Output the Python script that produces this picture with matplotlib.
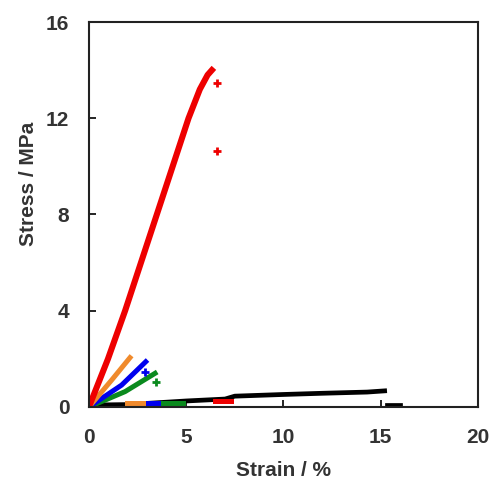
import matplotlib.pyplot as plt

plt.rcParams['font.family'] = ['Liberation Sans', 'DejaVu Sans']

# curves (strain %, stress MPa)
red_x = [0, 0.98, 1.86, 3.49, 5.12, 5.7, 6.1, 6.32]
red_y = [0, 2.0, 4.0, 8.0, 12.0, 13.2, 13.8, 14.0]
red_tail_x = [6.58, 6.58]
red_tail_y = [13.45, 10.65]
red_low_x = [6.5, 7.3]
red_low_y = [0.25, 0.25]

orange_x = [0, 1.17, 2.11]
orange_y = [0, 1.12, 2.05]
orange_low_x = [1.96, 2.78]
orange_low_y = [0.15, 0.15]

blue_x = [0, 1.68, 2.92]
blue_y = [0, 0.91, 1.88]
blue_tail_x = [2.89]
blue_tail_y = [1.47]
blue_low_x = [2.78, 3.56]
blue_low_y = [0.15, 0.15]

green_x = [0, 1.86, 3.40]
green_y = [0, 0.64, 1.40]
green_tail_x = [3.43]
green_tail_y = [1.05]
green_low_x = [3.56, 4.85]
green_low_y = [0.15, 0.15]

black_x = [0, 2.0, 4.0, 5.0, 7.0, 7.5, 10.0, 12.0, 14.3, 15.2]
black_y = [0.08, 0.1, 0.2, 0.25, 0.33, 0.45, 0.52, 0.57, 0.62, 0.67]
black_low_x = [15.3, 16.0]
black_low_y = [0.1, 0.1]

fig = plt.figure(figsize=(4.94, 4.87), dpi=100)
ax = fig.add_axes([0.180, 0.1643, 0.7876, 0.7905])

lw = 3.6
ax.plot(black_x, black_y, color='black', lw=3.4)
ax.plot(black_low_x, black_low_y, color='black', lw=3.4)
ax.plot(green_x, green_y, color='#0a8a1e', lw=lw)
ax.plot(green_low_x, green_low_y, color='#0a8a1e', lw=lw)
ax.plot(green_tail_x, green_tail_y, '+', color='#0a8a1e', ms=6, mew=2)
ax.plot(blue_x, blue_y, color='#0000ee', lw=lw)
ax.plot(blue_low_x, blue_low_y, color='#0000ee', lw=lw)
ax.plot(blue_tail_x, blue_tail_y, '+', color='#0000ee', ms=6, mew=2)
ax.plot(orange_x, orange_y, color='#f08a2c', lw=lw)
ax.plot(orange_low_x, orange_low_y, color='#f08a2c', lw=lw)
ax.plot(red_x, red_y, color='#ee0000', lw=4.4)
ax.plot(red_tail_x, red_tail_y, '+', color='#ee0000', ms=6, mew=2)
ax.plot(red_low_x, red_low_y, color='#ee0000', lw=lw)

ax.set_xlim(0, 20)
ax.set_ylim(0, 16)
ax.set_xticks([0, 5, 10, 15, 20])
ax.set_yticks([0, 4, 8, 12, 16])
ax.tick_params(direction='in', length=5, width=1.2, labelsize=15,
               labelcolor='#333333')
ax.tick_params(axis='x', pad=15)
ax.tick_params(axis='y', pad=14)
for s in ax.spines.values():
    s.set_linewidth(1.5)
    s.set_color('#222222')
for t in ax.get_xticklabels() + ax.get_yticklabels():
    t.set_fontweight('bold')

ax.set_xlabel('Strain / %', fontsize=15, fontweight='bold', color='#333333')
ax.set_ylabel('Stress / MPa', fontsize=15, fontweight='bold', color='#333333')
ax.xaxis.set_label_coords(0.5, -0.14)
ax.yaxis.set_label_coords(-0.13, 0.58)

fig.savefig('out.png', dpi=100)
